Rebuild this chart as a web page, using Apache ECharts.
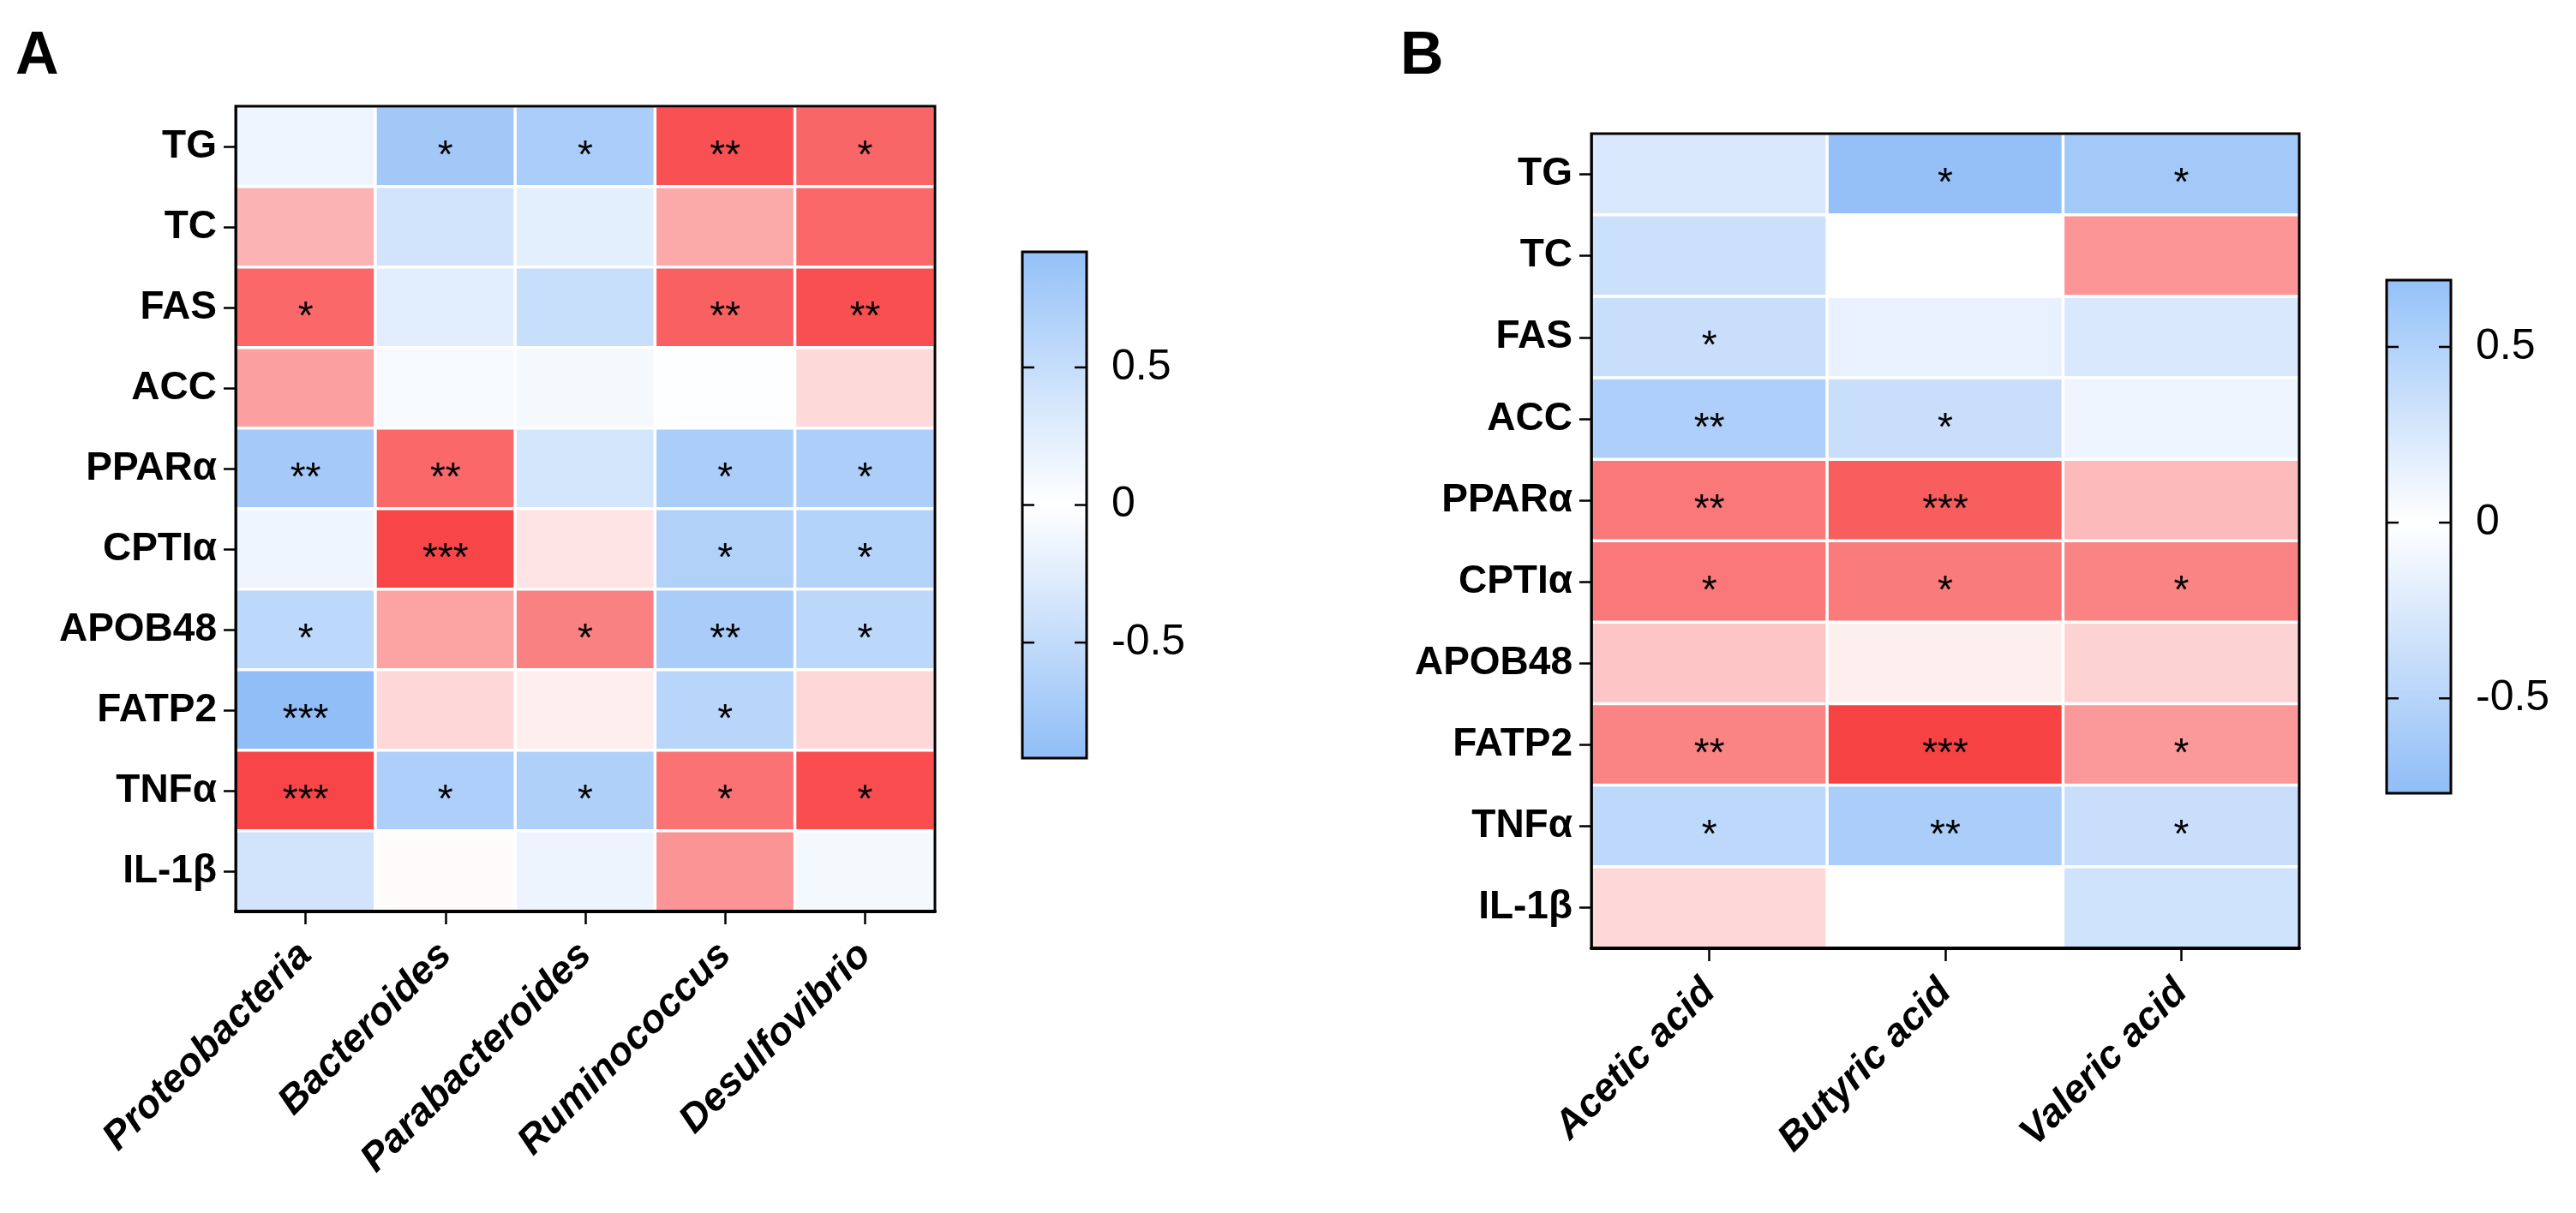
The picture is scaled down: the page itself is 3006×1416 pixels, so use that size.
<!DOCTYPE html>
<html>
<head>
<meta charset="utf-8">
<script src="https://cdn.jsdelivr.net/npm/echarts@6/dist/echarts.min.js"></script>
<style>html,body{margin:0;padding:0;background:#fff}#c{width:3006px;height:1416px}</style>
</head>
<body>
<div id="c"></div>
<script>
const rows = ['TG','TC','FAS','ACC','PPARα','CPTIα','APOB48','FATP2','TNFα','IL-1β'];
const colsA = ['Proteobacteria','Bacteroides','Parabacteroides','Ruminococcus','Desulfovibrio'];
const valuesA = [
  [-0.14, -0.76, -0.70,  0.83,  0.73],
  [ 0.36, -0.38, -0.22,  0.41,  0.72],
  [ 0.72, -0.24, -0.45,  0.76,  0.84],
  [ 0.46, -0.07, -0.09, -0.02,  0.18],
  [-0.74,  0.72, -0.35, -0.69, -0.68],
  [-0.14,  0.88,  0.13, -0.64, -0.62],
  [-0.55,  0.44,  0.60, -0.71, -0.56],
  [-0.90,  0.19,  0.08, -0.58,  0.19],
  [ 0.88, -0.67, -0.66,  0.67,  0.85],
  [-0.37,  0.02, -0.15,  0.51, -0.09]
];
const starsA = [
  ['', '*', '*', '**', '*'],
  ['', '', '', '', ''],
  ['*', '', '', '**', '**'],
  ['', '', '', '', ''],
  ['**', '**', '', '*', '*'],
  ['', '***', '', '*', '*'],
  ['*', '', '*', '**', '*'],
  ['***', '', '', '*', ''],
  ['***', '*', '*', '*', '*'],
  ['', '', '', '', '']
];
const colsB = ['Acetic acid','Butyric acid','Valeric acid'];
const valuesB = [
  [-0.29, -0.74, -0.64],
  [-0.38, -0.04,  0.36],
  [-0.40, -0.19, -0.29],
  [-0.57, -0.40, -0.15],
  [ 0.47,  0.57,  0.22],
  [ 0.47,  0.46,  0.43],
  [ 0.18,  0.02,  0.13],
  [ 0.43,  0.67,  0.35],
  [-0.47, -0.59, -0.40],
  [ 0.11, -0.04, -0.35]
];
const starsB = [
  ['', '*', '*'],
  ['', '', ''],
  ['*', '', ''],
  ['**', '*', ''],
  ['**', '***', ''],
  ['*', '*', '*'],
  ['', '', ''],
  ['**', '***', '*'],
  ['*', '**', '*'],
  ['', '', '']
];
const cbTicks = [-0.5, 0, 0.5];
const cbRangeA = [-0.92, 0.92];
const cbRangeB = [-0.77, 0.69];

const FONT = '"Liberation Sans", Arial, Helvetica, sans-serif';
const BLUE = '#8FBDF7', RED = '#F83E40';

function heatData(vals) {
  const d = [];
  vals.forEach((r, i) => r.forEach((v, j) => d.push([j, i, v])));
  return d;
}
function cbRender(range) {
  return function (params, api) {
    const p0 = api.coord([api.value(0), api.value(1)]);
    const p1 = api.coord([api.value(2), api.value(3)]);
    const off = range[1] / (range[1] - range[0]);
    const x0 = Math.min(p0[0], p1[0]), x1 = Math.max(p0[0], p1[0]);
    const y0 = Math.min(p0[1], p1[1]), y1 = Math.max(p0[1], p1[1]);
    const children = [{
      type: 'rect',
      shape: { x: x0, y: y0, width: x1 - x0, height: y1 - y0 },
      style: {
        fill: new echarts.graphic.LinearGradient(0, 0, 0, 1, [
          { offset: 0, color: '#94C1F8' }, { offset: off, color: '#FFFFFF' }, { offset: 1, color: '#8FBDF7' }
        ]),
        stroke: '#000', lineWidth: 3
      }
    }];
    cbTicks.forEach(t => {
      const ty = api.coord([0, t])[1];
      children.push({ type: 'line', shape: { x1: x0, y1: ty, x2: x0 + 14, y2: ty }, style: { stroke: '#000', lineWidth: 2.5 } });
      children.push({ type: 'line', shape: { x1: x1 - 14, y1: ty, x2: x1, y2: ty }, style: { stroke: '#000', lineWidth: 2.5 } });
    });
    return { type: 'group', children: children };
  };
}
function catX(gi, data) {
  return {
    type: 'category', gridIndex: gi, data: data, position: 'bottom', z: 10,
    axisLine: { show: true, lineStyle: { color: '#000', width: 4 } },
    axisTick: { show: true, alignWithLabel: true, length: 15, lineStyle: { color: '#000', width: 2.5 } },
    axisLabel: { rotate: 45, margin: 44, color: '#000', fontSize: 46, fontWeight: 'bold', fontStyle: 'italic', fontFamily: FONT },
    splitLine: { show: false }, splitArea: { show: false }
  };
}
function catY(gi) {
  return {
    type: 'category', gridIndex: gi, data: rows, inverse: true, z: 10,
    axisLine: { show: true, lineStyle: { color: '#000', width: 2.5 } },
    axisTick: { show: true, alignWithLabel: true, length: 14, lineStyle: { color: '#000', width: 2.5 } },
    axisLabel: { margin: 22, color: '#000', fontSize: 46, fontWeight: 'bold', fontFamily: FONT },
    splitLine: { show: false }, splitArea: { show: false }
  };
}
function cbY(gi, range) {
  return {
    type: 'value', gridIndex: gi, min: range[0], max: range[1], position: 'right',
    axisLine: { show: false },
    axisTick: { show: false },
    axisLabel: { margin: 29, customValues: cbTicks, color: '#000', fontSize: 50, fontFamily: FONT },
    splitLine: { show: false }
  };
}
function hiddenX(gi) {
  return { type: 'value', gridIndex: gi, min: 0, max: 1, show: false };
}
function heatSeries(xi, yi, vals, stars) {
  return {
    type: 'heatmap', xAxisIndex: xi, yAxisIndex: yi, data: heatData(vals), z: 2,
    itemStyle: { borderColor: '#fff', borderWidth: 3.5 },
    label: {
      show: true, color: '#000', fontSize: 46, fontFamily: FONT, offset: [0, 12],
      formatter: p => stars[p.data[1]][p.data[0]]
    },
    emphasis: { disabled: true }
  };
}
function cbSeries(xi, yi, range) {
  return {
    type: 'custom', xAxisIndex: xi, yAxisIndex: yi, z: 2, clip: false, silent: true,
    encode: { x: [0, 2], y: [1, 3] },
    data: [[0, range[0], 1, range[1]]],
    renderItem: cbRender(range)
  };
}

const chart = echarts.init(document.getElementById('c'));
chart.setOption({
  animation: false,
  backgroundColor: '#fff',
  textStyle: { fontFamily: FONT },
  title: [
    { text: 'A', left: 18, top: 32, padding: 0, textStyle: { fontSize: 70, fontWeight: 'bold', color: '#000', fontFamily: FONT } },
    { text: 'B', left: 1634, top: 32, padding: 0, textStyle: { fontSize: 70, fontWeight: 'bold', color: '#000', fontFamily: FONT } }
  ],
  grid: [
    { left: 275, top: 124, width: 816, height: 940, show: true, z: 5, borderColor: '#000', borderWidth: 3, backgroundColor: 'rgba(0,0,0,0)' },
    { left: 1193, top: 294, width: 75, height: 591, show: false },
    { left: 1857, top: 156, width: 826, height: 951, show: true, z: 5, borderColor: '#000', borderWidth: 3, backgroundColor: 'rgba(0,0,0,0)' },
    { left: 2785, top: 327, width: 75, height: 599, show: false }
  ],
  xAxis: [catX(0, colsA), hiddenX(1), catX(2, colsB), hiddenX(3)],
  yAxis: [catY(0), cbY(1, cbRangeA), catY(2), cbY(3, cbRangeB)],
  visualMap: [
    { show: false, seriesIndex: 0, dimension: 2, min: cbRangeA[0], max: cbRangeA[1], inRange: { color: [BLUE, '#FFFFFF', RED] } },
    { show: false, seriesIndex: 2, dimension: 2, min: cbRangeB[0], max: cbRangeB[1], inRange: { color: [BLUE, '#FFFFFF', RED] } }
  ],
  series: [
    heatSeries(0, 0, valuesA, starsA),
    cbSeries(1, 1, cbRangeA),
    heatSeries(2, 2, valuesB, starsB),
    cbSeries(3, 3, cbRangeB)
  ]
});
</script>
</body>
</html>
